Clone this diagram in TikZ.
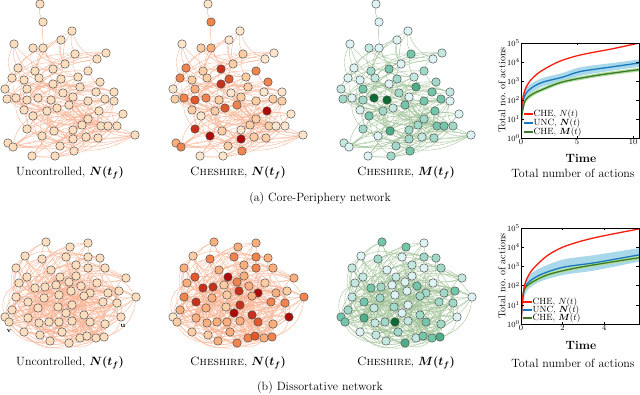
\documentclass[tikz,border=0pt]{standalone}
\usepackage{amsmath}
\usepackage{amssymb}
\usepackage{tikz}
\usetikzlibrary{backgrounds}
\definecolor{uncfill}{HTML}{FCDDBD}
\definecolor{o0}{HTML}{FDE5CC}
\definecolor{o1}{HTML}{FCCDA4}
\definecolor{o2}{HTML}{F9AE7D}
\definecolor{o3}{HTML}{F0834E}
\definecolor{o4}{HTML}{E0582E}
\definecolor{o5}{HTML}{C9301C}
\definecolor{o6}{HTML}{AE0A0A}
\definecolor{g0}{HTML}{DDF2F2}
\definecolor{g1}{HTML}{C3E8E0}
\definecolor{g2}{HTML}{A0D9C8}
\definecolor{g3}{HTML}{74C6AA}
\definecolor{g4}{HTML}{4CAF88}
\definecolor{g5}{HTML}{2A8E55}
\definecolor{g6}{HTML}{0B6B33}
\definecolor{edgeo}{HTML}{F9B495}
\definecolor{edgeg}{HTML}{A3C49A}
\definecolor{cred}{HTML}{FF1A0A}
\definecolor{cblue}{HTML}{1878BE}
\definecolor{bandb}{HTML}{A8D8EA}
\definecolor{cgreen}{HTML}{3A7A2A}
\definecolor{bandg}{HTML}{B5E0A0}

\begin{document}
\begin{tikzpicture}[x=1pt,y=1pt,yscale=-1,
    vtx/.style={circle,draw=black!70,line width=0.45pt,minimum size=8.5pt,inner sep=0pt},
    oedge/.style={draw=edgeo,line width=0.4pt},
    gedge/.style={draw=edgeg,line width=0.4pt},
    sublbl/.style={font=\large,inner sep=1pt},
    ticklbl/.style={font=\footnotesize,inner sep=1pt},
    leg/.style={font=\small,anchor=west,inner sep=0.5pt},
    crv/.style={line width=1.3pt}]
\useasboundingbox (0,0) rectangle (640,394);

% (a) core-periphery network, same layout three times
\foreach \x/\y/\o/\g [count=\i] in {40/4/0/0, 43/22/3/0, 72/31/0/0, 61/40/0/0, 14/44/0/0, 33/48/1/1,
    43/48/2/0, 75/54/1/3, 106/53/0/1, 97/59/0/0, 18/68/3/0, 65/64/1/0, 53/69/5/3, 35/71/1/2,
    88/71/3/2, 12/78/3/0, 24/80/1/0, 39/78/1/1, 61/79/4/2, 78/77/1/1, 100/82/3/2, 5/89/0/1,
    27/89/2/3, 53/84/5/0, 80/87/1/4, 96/92/0/3, 114/92/0/1, 7/99/1/2, 16/98/3/0, 27/100/4/2,
    38/98/3/6, 51/100/1/6, 63/93/0/2, 73/97/1/0, 88/101/1/3, 105/99/1/3, 114/101/1/0, 24/110/1/0,
    47/111/1/2, 57/108/4/1, 69/105/3/3, 99/111/6/3, 123/114/0/0, 33/116/0/3, 88/119/1/2,
    82/125/1/2, 101/126/1/3, 108/126/0/3, 117/126/0/2, 27/129/5/2, 54/131/1/4, 73/130/0/2,
    42/136/6/0, 86/137/1/1, 73/139/6/2, 98/138/1/2, 135/135/0/0, 8/143/2/1, 13/147/3/0,
    32/156/0/0, 55/156/0/2, 60/146/1/2, 74/151/3/3}{
  \node[vtx,fill=uncfill] (t1-\i) at (\x,\y) {};
  \node[vtx,fill=o\o] (t2-\i) at (\x+168,\y) {};
  \node[vtx,fill=g\g] (t3-\i) at (\x+336,\y) {};
}

% (b) dissortative network
\foreach \x/\y/\o/\g [count=\i] in {46/242/2/3, 70/247/2/3, 88/243/2/0, 25/256/1/0, 42/259/3/2,
    66/257/3/0, 88/257/3/2, 100/258/2/2, 16/268/2/1, 51/270/2/0, 76/265/2/1, 88/268/3/0,
    105/268/2/2, 27/277/4/1, 60/277/6/1, 76/276/2/0, 126/278/2/1, 19/283/2/1, 35/288/5/3,
    45/287/5/2, 56/285/1/0, 69/282/3/0, 81/286/2/3, 97/283/1/0, 119/291/1/3, 71/291/5/0,
    90/293/6/2, 108/293/2/2, 16/297/3/1, 28/302/5/3, 44/298/2/2, 59/295/1/0, 84/296/2/2,
    103/302/3/2, 117/303/3/2, 136/297/3/0, 72/305/5/0, 38/308/2/1, 58/307/1/2, 12/310/2/2,
    66/313/6/0, 84/315/5/2, 28/318/2/4, 5/317/0/3, 9/322/1/3, 39/323/2/1, 49/322/2/2,
    59/322/2/6, 72/321/2/1, 90/322/4/3, 105/324/2/2, 121/317/6/0, 24/332/1/0, 40/335/1/1,
    62/332/2/2, 80/338/3/1, 87/336/4/3, 96/338/2/3, 104/337/3/4, 50/341/2/1, 69/343/3/4}{
  \node[vtx,fill=uncfill] (b1-\i) at (\x,\y) {};
  \node[vtx,fill=o\o] (b2-\i) at (\x+168,\y) {};
  \node[vtx,fill=g\g] (b3-\i) at (\x+336,\y) {};
}
\node[font=\scriptsize\bfseries,inner sep=0pt] (vlab) at (9,331) {v};
\node[font=\scriptsize\bfseries,inner sep=0pt] (ulab) at (123,326) {u};

\begin{pgfonlayer}{background}
  \foreach \a/\b in {1/2,2/13,3/8,4/12,5/11}{
    \draw[oedge] (t1-\a) to[bend left=15] (t1-\b);
    \draw[oedge] (t2-\a) to[bend left=15] (t2-\b);
    \draw[gedge] (t3-\a) to[bend left=15] (t3-\b);
  }
  \foreach \i in {3,...,63}{
    \foreach \k in {1,2,3}{
      \pgfmathtruncatemacro\r{3+mod(\i*13+\k*17+mod(\i*\i,31),19)}
      \pgfmathtruncatemacro\j{\i+\r>63 ? \i-\r : \i+\r}
      \draw[oedge] (t1-\i) to[bend left=22] (t1-\j);
      \draw[oedge] (t2-\i) to[bend left=22] (t2-\j);
      \draw[gedge] (t3-\i) to[bend left=22] (t3-\j);
    }
  }
  \foreach \i in {1,...,61}{
    \foreach \k in {1,2,3,4,5}{
      \pgfmathtruncatemacro\r{3+mod(\i*11+\k*23+mod(\i*\i,41)*3,27)}
      \pgfmathtruncatemacro\j{\i+\r>61 ? \i-\r : \i+\r}
      \draw[oedge] (b1-\i) to[bend left=38] (b1-\j);
      \draw[oedge] (b2-\i) to[bend left=38] (b2-\j);
      \draw[gedge] (b3-\i) to[bend left=38] (b3-\j);
    }
  }
\end{pgfonlayer}

% captions
\node[sublbl] (ca1) at (70,173) {Uncontrolled, $\boldsymbol{N(t_f)}$};
\node[sublbl] (ca2) at (238,173) {\textsc{Cheshire}, $\boldsymbol{N(t_f)}$};
\node[sublbl] (ca3) at (406,173) {\textsc{Cheshire}, $\boldsymbol{M(t_f)}$};
\node[sublbl] (ca4) at (573,173) {Total number of actions};
\node[sublbl] (cap-a) at (320,199) {(a) Core-Periphery network};
\node[sublbl] (cb1) at (70,363) {Uncontrolled, $\boldsymbol{N(t_f)}$};
\node[sublbl] (cb2) at (238,363) {\textsc{Cheshire}, $\boldsymbol{N(t_f)}$};
\node[sublbl] (cb3) at (406,363) {\textsc{Cheshire}, $\boldsymbol{M(t_f)}$};
\node[sublbl] (cb4) at (573,363) {Total number of actions};
\node[sublbl] (cap-b) at (320,387) {(b) Dissortative network};

% plot (a)
\begin{scope}[shift={(521,138)},x=11.2pt,y=-19pt]
  \begin{scope}
    \clip (0,0) rectangle (10.55,5);
    \fill[bandb] plot[smooth,tension=.5] coordinates {(0.02,1.2) (0.05,1.5) (0.2,2.25) (0.5,2.65) (1.1,2.93) (2,3.17) (3.7,3.42) (5.3,3.72) (8.2,3.95) (10.55,4.13)}
      -- plot[smooth,tension=.5] coordinates {(10.55,3.75) (8.2,3.55) (5.3,3.28) (3.7,2.98) (2,2.72) (1.1,2.45) (0.5,2.1) (0.2,1.7) (0.05,0.9) (0.02,0.4)} -- cycle;
    \fill[bandg] plot[smooth,tension=.5] coordinates {(0.01,0.3) (0.05,1.0) (0.1,1.5) (0.4,2.12) (1,2.42) (1.7,2.6) (3.7,3.05) (6.8,3.4) (10.55,3.7)}
      -- plot[smooth,tension=.5] coordinates {(10.55,3.5) (6.8,3.2) (3.7,2.85) (1.7,2.4) (1,2.18) (0.4,1.85) (0.1,1.1) (0.05,0.6) (0.01,0)} -- cycle;
    \draw[crv,cblue] plot[smooth,tension=.5] coordinates {(0.02,0.8) (0.05,1.2) (0.2,2.0) (0.5,2.4) (1.1,2.7) (2,2.95) (3.7,3.2) (5.3,3.5) (8.2,3.75) (10.55,3.95)};
    \draw[crv,cgreen] plot[smooth,tension=.5] coordinates {(0.01,0) (0.05,0.8) (0.1,1.3) (0.4,2.0) (1,2.3) (1.7,2.5) (3.7,2.95) (6.8,3.3) (10.55,3.6)};
    \draw[crv,cred] plot[smooth,tension=.5] coordinates {(0.02,1.2) (0.05,1.6) (0.2,2.2) (0.4,2.6) (0.8,3.0) (1.5,3.4) (2.3,3.7) (3.5,4.05) (5.3,4.37) (8.2,4.7) (10.55,5.0)};
  \end{scope}
  \draw[line width=0.5pt] (0,0) rectangle (10.55,5);
  \foreach \d in {0,...,5}{
    \draw[line width=0.4pt] (0,\d) -- (0.25,\d) (10.55,\d) -- (10.3,\d);
    \node[ticklbl,anchor=east] (pa-y\d) at (0,\d) {$10^{\d}$};
  }
  \foreach \t in {0,5,10}{
    \draw[line width=0.4pt] (\t,0) -- (\t,0.12) (\t,5) -- (\t,4.88);
    \node[ticklbl,anchor=north] (pa-x\t) at (\t,0) {$\t$};
  }
\end{scope}
\node[rotate=90,inner sep=0pt] (pa-ylab) at (502,90) {Total no.\ of actions};
\node[font=\large\bfseries] (pa-time) at (581,158) {Time};
\draw[crv,cred] (524,114) -- (533,114);
\draw[crv,cblue] (524,123) -- (533,123);
\draw[crv,cgreen] (524,132) -- (533,132);
\node[leg] (pa-l1) at (533,114) {CHE, $N(t)$};
\node[leg] (pa-l2) at (533,123) {UNC, $\boldsymbol{N}(t)$};
\node[leg] (pa-l3) at (533,132) {CHE, $\boldsymbol{M}(t)$};

% plot (b)
\begin{scope}[shift={(521,324)},x=20.8pt,y=-19.2pt]
  \begin{scope}
    \clip (0,0) rectangle (5.67,5);
    \fill[bandb] plot[smooth,tension=.5] coordinates {(0.02,0.6) (0.1,1.8) (0.3,2.45) (0.9,2.9) (2,3.35) (3.6,3.6) (5.67,3.95)}
      -- plot[smooth,tension=.5] coordinates {(5.67,3.25) (3.6,2.8) (2,2.55) (0.9,2.2) (0.3,1.75) (0.1,1.1) (0.02,0.05)} -- cycle;
    \fill[bandg] plot[smooth,tension=.5] coordinates {(0.02,0.7) (0.1,1.65) (0.3,2.12) (1.25,2.65) (2.8,3.05) (5.67,3.55)}
      -- plot[smooth,tension=.5] coordinates {(5.67,3.35) (2.8,2.85) (1.25,2.45) (0.3,1.88) (0.1,1.35) (0.02,0.3)} -- cycle;
    \draw[crv,cblue] plot[smooth,tension=.5] coordinates {(0.02,0.3) (0.1,1.5) (0.3,2.1) (0.9,2.55) (2,2.95) (3.6,3.2) (5.67,3.6)};
    \draw[crv,cgreen] plot[smooth,tension=.5] coordinates {(0.02,0.5) (0.1,1.5) (0.3,2.0) (1.25,2.55) (2.8,2.95) (5.67,3.45)};
    \draw[crv,cred] plot[smooth,tension=.5] coordinates {(0.01,0) (0.05,1.0) (0.15,1.9) (0.3,2.4) (0.6,2.9) (1.25,3.55) (2,4.0) (3,4.35) (4,4.6) (5.67,4.95)};
  \end{scope}
  \draw[line width=0.5pt] (0,0) rectangle (5.67,5);
  \foreach \d in {0,...,5}{
    \draw[line width=0.4pt] (0,\d) -- (0.13,\d) (5.67,\d) -- (5.54,\d);
    \node[ticklbl,anchor=east] (pb-y\d) at (0,\d) {$10^{\d}$};
  }
  \foreach \t in {0,2,4}{
    \draw[line width=0.4pt] (\t,0) -- (\t,0.12) (\t,5) -- (\t,4.88);
    \node[ticklbl,anchor=north] (pb-x\t) at (\t,0) {$\t$};
  }
\end{scope}
\node[rotate=90,inner sep=0pt] (pb-ylab) at (502,276) {Total no.\ of actions};
\node[font=\large\bfseries] (pb-time) at (581,345) {Time};
\draw[crv,cred] (523,302) -- (532,302);
\draw[crv,cblue] (523,310) -- (532,310);
\draw[crv,cgreen] (523,318) -- (532,318);
\node[leg] (pb-l1) at (532,302) {CHE, $N(t)$};
\node[leg] (pb-l2) at (532,310) {UNC, $\boldsymbol{N}(t)$};
\node[leg] (pb-l3) at (532,318) {CHE, $\boldsymbol{M}(t)$};
\end{tikzpicture}
\end{document}
